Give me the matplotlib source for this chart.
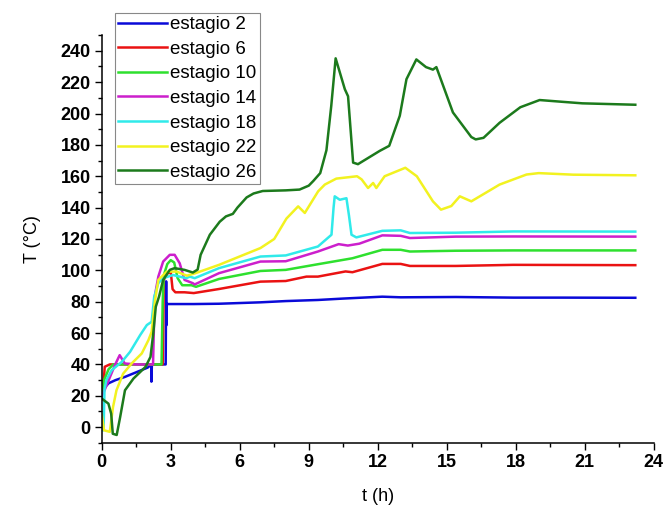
import numpy as np
import matplotlib
matplotlib.use("Agg")
import matplotlib.pyplot as plt
from matplotlib.ticker import MultipleLocator

# temperature profiles per stage: t (h), T (degC)
t2 = [0, 0.05, 0.3, 0.6, 1.0, 1.5, 2.0, 2.15, 2.16, 2.18, 2.4, 2.78, 2.8, 2.81, 2.83, 3.0, 4.0, 5.1, 6.9,
      8.0, 9.4, 10.5, 12.2, 13.0, 15.4, 17.9, 20.0, 23.2]
T2 = [20, 24, 28, 30, 32, 35, 38, 40, 29, 40, 40, 40, 93, 65, 78.5, 78.5, 78.5, 78.7, 79.6,
      80.4, 81.1, 82, 83.2, 82.8, 83, 82.6, 82.6, 82.5]

t6 = [0, 0.05, 0.13, 0.35, 1.0, 2.0, 2.65, 2.7, 2.85, 3.0, 3.08, 3.2, 3.6, 4.0, 5.1, 6.9, 8.0, 8.9,
      9.4, 10.6, 10.9, 12.2, 13.0, 13.4, 15.4, 17.9, 23.2]
T6 = [22, 22, 38.5, 40, 40, 40, 40, 94, 98, 99, 88, 86, 86, 85.5, 88.1, 92.8, 93.2, 96,
      96, 99.3, 98.8, 104.1, 104.1, 102.8, 102.8, 103.5, 103.3]

t10 = [0, 0.1, 0.3, 0.5, 1.0, 2.0, 2.6, 2.65, 2.7, 2.85, 3.0, 3.15, 3.3, 3.5, 3.9, 4.1, 5.1, 6.9,
       8.0, 9.4, 10.9, 12.2, 13.0, 13.4, 15.4, 17.9, 23.2]
T10 = [22, 30, 37, 40, 40, 40, 40, 80, 97, 104, 106.5, 105, 95, 90.5, 90.5, 89.5, 94.5, 99.6,
       100.3, 103.9, 107.7, 113.1, 113.1, 112, 112.5, 112.7, 112.7]

t14 = [0, 0.09, 0.3, 0.57, 0.78, 1.0, 1.5, 2.23, 2.3, 2.46, 2.67, 2.96, 3.17, 3.39, 3.6, 3.96,
       4.04, 5.1, 6.9, 8.0, 9.4, 10.3, 10.7, 11.2, 12.2, 13.0, 13.4, 15.4, 17.9, 23.2]
T14 = [20, 22.4, 29.9, 39.5, 45.9, 40.6, 40, 40, 83, 96, 105.6, 109.9, 109.9, 104.5, 93.9, 91.8,
       91, 98.2, 105.6, 105.8, 112, 116.7, 115.8, 117, 122.3, 122, 120.6, 121.5, 121.6, 121.5]

t18 = [0, 0.03, 0.08, 0.12, 0.2, 0.43, 0.87, 1.23, 1.67, 1.96, 2.17, 2.28, 2.46, 2.67, 3.1, 3.67,
       3.83, 4.04, 5.1, 6.9, 8.0, 9.4, 9.99, 10.08, 10.13, 10.35, 10.64, 10.75, 10.86, 11.07, 12.2,
       13.0, 13.4, 15.4, 17.9, 23.2]
T18 = [5, -2, -2, 24, 30, 36.3, 41.6, 48, 58.7, 65.1, 67.2, 83, 91.8, 95, 97, 95,
       96, 95, 101.4, 108.8, 109.5, 115.2, 122.7, 140, 147.2, 145, 146, 135, 122.7, 121, 125.2,
       125.5, 123.8, 124, 124.8, 124.7]

t22 = [0, 0.1, 0.35, 0.49, 0.64, 0.93, 1.3, 1.74, 2.03, 2.17, 2.32, 2.46, 2.83, 3.26, 3.7, 4.04,
       5.1, 6.9, 7.5, 8.03, 8.54, 8.83, 9.41, 9.7, 10.2, 11.1, 11.3, 11.58, 11.8, 11.94, 12.3, 12.8,
       13.2, 13.7, 14.4, 14.75, 15.2, 15.57, 16.07, 17.3, 18.47, 19.0, 20.5, 23.2]
T22 = [8, -2, -3, 12.8, 23.5, 34.1, 40.6, 47, 55.5, 60.8, 81, 93.9, 99.2, 99.2, 96.6, 98,
       103.5, 114.2, 120, 133, 140.8, 136.6, 150.4, 154.7, 158.5, 160, 158, 152.5, 155.7, 152.5, 160, 163,
       165.4, 160, 144, 138.7, 141, 147.2, 144, 154.7, 161.1, 162, 161, 160.6]

t26 = [0, 0.29, 0.41, 0.48, 0.65, 0.8, 1.01, 1.38, 1.9, 2.12, 2.24, 2.35, 2.49, 2.67, 2.96, 3.17,
       3.6, 3.96, 4.17, 4.3, 4.7, 5.13, 5.4, 5.7, 5.9, 6.3, 6.6, 7.0, 8.0, 8.6, 9.0, 9.2, 9.5, 9.77,
       9.98, 10.17, 10.57, 10.71, 10.93, 11.14, 12.09, 12.5, 12.96, 13.25, 13.68, 14.1, 14.4, 14.55,
       15.27, 16.07, 16.26, 16.6, 17.3, 18.2, 19.04, 20.0, 20.9, 23.2]
T26 = [18.2, 15, 8.6, -4.2, -5, 6.4, 23.5, 31, 38.4, 44.8, 59.7, 76.8, 83.2, 93.9, 100.3, 101.4,
       100.3, 98.6, 100.5, 109.9, 122.7, 131, 134.4, 136, 140, 146.5, 149, 150.6, 151, 151.5, 154, 157, 162, 176.6,
       204.9, 235.2, 215.5, 211, 168.7, 167.7, 176.2, 179.4, 198.6, 221.9, 234.5, 229.6, 228, 229.6,
       200.7, 185, 183.5, 184.5, 194.1, 204, 208.6, 207.5, 206.5, 205.6]

labels = ["estagio 2", "estagio 6", "estagio 10", "estagio 14", "estagio 18", "estagio 22", "estagio 26"]
series = [(t2, T2), (t6, T6), (t10, T10), (t14, T14), (t18, T18), (t22, T22), (t26, T26)]
colors = ["#0a0ad8", "#ea1212", "#2ee02e", "#cc1fcc", "#30eaea", "#f2f220", "#1c7a1c"]

plt.rcParams['font.family'] = ['Liberation Sans', 'DejaVu Sans']

fig = plt.figure(figsize=(6.65, 5.09), dpi=100)
ax = fig.add_axes([0.153, 0.13, 0.83, 0.801])

for (t, T), c, lab in zip(series, colors, labels):
    ax.plot(t, T, color=c, lw=1.8, label=lab)

ax.set_xlim(0, 24)
ax.set_ylim(-10, 250)
ax.xaxis.set_major_locator(MultipleLocator(3))
ax.xaxis.set_minor_locator(MultipleLocator(1.5))
ax.yaxis.set_major_locator(MultipleLocator(20))
ax.yaxis.set_minor_locator(MultipleLocator(10))
ax.set_yticks(np.arange(0, 241, 20))

for s in ['top', 'right']:
    ax.spines[s].set_visible(False)
for s in ['left', 'bottom']:
    ax.spines[s].set_linewidth(1.1)

ax.tick_params(which='major', direction='out', length=5, width=1.0, labelsize=13, pad=3)
ax.tick_params(which='minor', direction='out', length=3, width=1.0)
for lbl in ax.get_xticklabels() + ax.get_yticklabels():
    lbl.set_fontweight('bold')

ax.set_xlabel("t (h)", fontsize=13, labelpad=12)
ax.set_ylabel("T (°C)", fontsize=13, labelpad=14)

leg = ax.legend(loc='upper left', bbox_to_anchor=(0.173, 0.974), bbox_transform=fig.transFigure,
                fontsize=13.5, frameon=True, fancybox=False, edgecolor='#888888', framealpha=1,
                borderaxespad=0, borderpad=0.15, handlelength=2.6, handletextpad=0.2,
                labelspacing=0.4)
leg.get_frame().set_linewidth(0.8)

fig.savefig("out.png", dpi=100)
